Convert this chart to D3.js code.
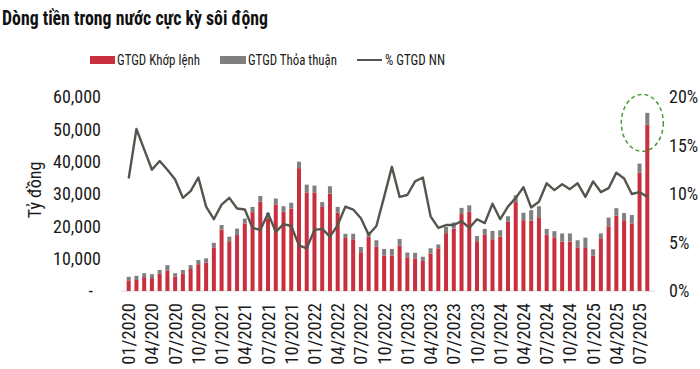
<!DOCTYPE html>
<html>
<head>
<meta charset="utf-8">
<script src="https://cdn.jsdelivr.net/npm/d3@7"></script>
<style>
  html, body { margin: 0; padding: 0; background: #fff; }
  svg { display: block; }
  .narrow { font-family: "Liberation Sans Narrow", "Arial Narrow", "Roboto Condensed", "DejaVu Sans Condensed", sans-serif; }
</style>
</head>
<body>
<div id="chart"></div>
<script>
const months = [
  "01/2020","02/2020","03/2020","04/2020","05/2020","06/2020","07/2020","08/2020","09/2020","10/2020","11/2020","12/2020",
  "01/2021","02/2021","03/2021","04/2021","05/2021","06/2021","07/2021","08/2021","09/2021","10/2021","11/2021","12/2021",
  "01/2022","02/2022","03/2022","04/2022","05/2022","06/2022","07/2022","08/2022","09/2022","10/2022","11/2022","12/2022",
  "01/2023","02/2023","03/2023","04/2023","05/2023","06/2023","07/2023","08/2023","09/2023","10/2023","11/2023","12/2023",
  "01/2024","02/2024","03/2024","04/2024","05/2024","06/2024","07/2024","08/2024","09/2024","10/2024","11/2024","12/2024",
  "01/2025","02/2025","03/2025","04/2025","05/2025","06/2025","07/2025","08/2025"
];
const tickLabels = [
  "01/2020","04/2020","07/2020","10/2020","01/2021","04/2021","07/2021","10/2021",
  "01/2022","04/2022","07/2022","10/2022","01/2023","04/2023","07/2023","10/2023",
  "01/2024","04/2024","07/2024","10/2024","01/2025","04/2025","07/2025"
];
// GTGD Khớp lệnh (tỷ đồng)
const khopLenh = [
  3300,3400,4300,4000,5300,6400,4500,5300,6800,8300,8800,13500,
  19000,15400,17300,20900,24400,27600,22500,26800,24500,25500,38000,30500,
  30500,26000,30100,24200,16400,16000,12000,16800,13700,11000,11000,14100,
  10400,10100,9300,11600,13200,17900,19300,23800,24500,15400,17500,16000,
  16800,21400,27500,21900,21800,22800,17400,16600,15300,15300,13500,13300,
  10900,16300,20000,23300,21900,20900,36600,51400
];
// GTGD Thỏa thuận (tỷ đồng)
const thoaThuan = [
  1100,1300,1200,1200,1200,1600,1000,1200,1200,1300,1300,1400,
  1400,1400,2000,1500,1600,1800,1700,1800,1700,1800,2000,2400,
  2100,1500,2300,1800,1300,1700,1600,1500,2000,2000,2000,2000,
  1500,1700,1300,1600,1200,1900,1900,1900,2000,1600,1700,2600,
  2000,1700,2100,2300,3200,3400,1800,1900,2500,2500,2200,3200,
  2000,1500,2700,2300,2200,2600,2800,3700
];
// % GTGD NN
const pctNN = [
  11.6,16.7,14.6,12.5,13.4,12.5,11.5,9.6,10.3,11.7,8.7,7.4,
  8.9,9.6,8.5,8.4,6.5,6.3,8.0,6.1,6.9,6.7,4.7,4.4,
  6.3,6.4,5.6,6.8,8.7,8.4,7.5,5.8,6.7,9.7,12.8,9.7,
  9.9,11.3,11.7,7.7,6.5,6.8,6.8,7.2,6.5,7.4,7.0,9.0,
  7.4,8.7,9.6,10.7,8.6,9.2,11.1,10.4,11.0,10.5,11.1,9.7,
  11.3,10.2,10.6,12.2,11.6,10.0,10.2,9.7
];
const leftTicks = [0, 10000, 20000, 30000, 40000, 50000, 60000];
const rightTicks = [0, 5, 10, 15, 20];
const seriesNames = ["GTGD Khớp lệnh", "GTGD Thỏa thuận", "% GTGD NN"];
const titleText = "Dòng tiền trong nước cực kỳ sôi động";
const yAxisTitle = "Tỷ đồng";

const W = 700, H = 369;
const colRed = "#C8303F", colGray = "#7F7F7F", colLine = "#55554E";

const svg = d3.select("#chart").append("svg").attr("width", W).attr("height", H);

const x = d3.scalePoint().domain(months).range([128.7, 647.3]);
const yL = d3.scaleLinear().domain([0, 60000]).range([291, 97]);
const yR = d3.scaleLinear().domain([0, 20]).range([291, 97]);
const barW = 4;

// Title
svg.append("text").attr("class", "narrow")
  .attr("x", 2).attr("y", 25)
  .attr("font-size", 21).attr("font-weight", "bold").attr("fill", "#111")
  .attr("textLength", 266).attr("lengthAdjust", "spacingAndGlyphs")
  .text(titleText);

// Legend
const lg = svg.append("g").attr("class", "narrow").attr("font-size", 14).attr("fill", "#1a1a1a");
lg.append("rect").attr("x", 90).attr("y", 56).attr("width", 25).attr("height", 8).attr("fill", colRed);
lg.append("text").attr("x", 117).attr("y", 65).attr("textLength", 83).attr("lengthAdjust", "spacingAndGlyphs").text(seriesNames[0]);
lg.append("rect").attr("x", 220).attr("y", 56).attr("width", 26).attr("height", 8).attr("fill", colGray);
lg.append("text").attr("x", 248).attr("y", 65).attr("textLength", 89).attr("lengthAdjust", "spacingAndGlyphs").text(seriesNames[1]);
lg.append("line").attr("x1", 357).attr("x2", 382).attr("y1", 60).attr("y2", 60)
  .attr("stroke", colLine).attr("stroke-width", 2);
lg.append("text").attr("x", 385).attr("y", 65).attr("textLength", 60).attr("lengthAdjust", "spacingAndGlyphs").text(seriesNames[2]);

// Baseline
svg.append("line").attr("x1", 121).attr("x2", 655).attr("y1", yL(0)).attr("y2", yL(0))
  .attr("stroke", "#d9d9d9").attr("stroke-width", 1);

// Stacked bars
const data = months.map((m, i) => ({ m, kl: khopLenh[i], tt: thoaThuan[i], p: pctNN[i] }));
svg.append("g").selectAll("rect").data(data).join("rect")
  .attr("x", d => x(d.m) - barW / 2).attr("width", barW)
  .attr("y", d => yL(d.kl)).attr("height", d => yL(0) - yL(d.kl))
  .attr("fill", colRed);
svg.append("g").selectAll("rect").data(data).join("rect")
  .attr("x", d => x(d.m) - barW / 2).attr("width", barW)
  .attr("y", d => yL(d.kl + d.tt)).attr("height", d => yL(d.kl) - yL(d.kl + d.tt))
  .attr("fill", colGray);

// Line
svg.append("path").datum(data)
  .attr("fill", "none").attr("stroke", colLine).attr("stroke-width", 2.4)
  .attr("stroke-linejoin", "round")
  .attr("d", d3.line().x(d => x(d.m)).y(d => yR(d.p)));

// Left axis
const fmtL = d3.format(",");
const la = svg.append("g").attr("class", "narrow").attr("font-size", 18).attr("fill", "#1a1a1a");
la.selectAll("text").data(leftTicks).join("text")
  .attr("x", d => d === 0 ? 93 : 101).attr("y", d => yL(d)).attr("dy", "0.35em")
  .attr("text-anchor", "end")
  .text(d => d === 0 ? "-" : fmtL(d));

// Right axis
const ra = svg.append("g").attr("class", "narrow").attr("font-size", 18).attr("fill", "#1a1a1a");
ra.selectAll("text").data(rightTicks).join("text")
  .attr("x", 669).attr("y", d => yR(d)).attr("dy", "0.35em")
  .text(d => d + "%");

// Y axis title
svg.append("text").attr("class", "narrow").attr("font-size", 18).attr("fill", "#1a1a1a")
  .attr("transform", "translate(41,190) rotate(-90)").attr("text-anchor", "middle")
  .text(yAxisTitle);

// X tick labels
svg.append("g").attr("class", "narrow").attr("font-size", 18.5).attr("fill", "#1a1a1a")
  .selectAll("text").data(tickLabels).join("text")
  .attr("transform", d => `translate(${x(d) + 6.5},303) rotate(-90)`)
  .attr("text-anchor", "end")
  .text(d => d);

// Dashed highlight ellipse around last bar
const last = data[data.length - 1];
svg.append("ellipse")
  .attr("cx", x(last.m) - 5).attr("cy", yL(52000))
  .attr("rx", 21).attr("ry", 28.5)
  .attr("fill", "none").attr("stroke", "#4A9A3A").attr("stroke-width", 1.5)
  .attr("stroke-dasharray", "4,3");
</script>
</body>
</html>
